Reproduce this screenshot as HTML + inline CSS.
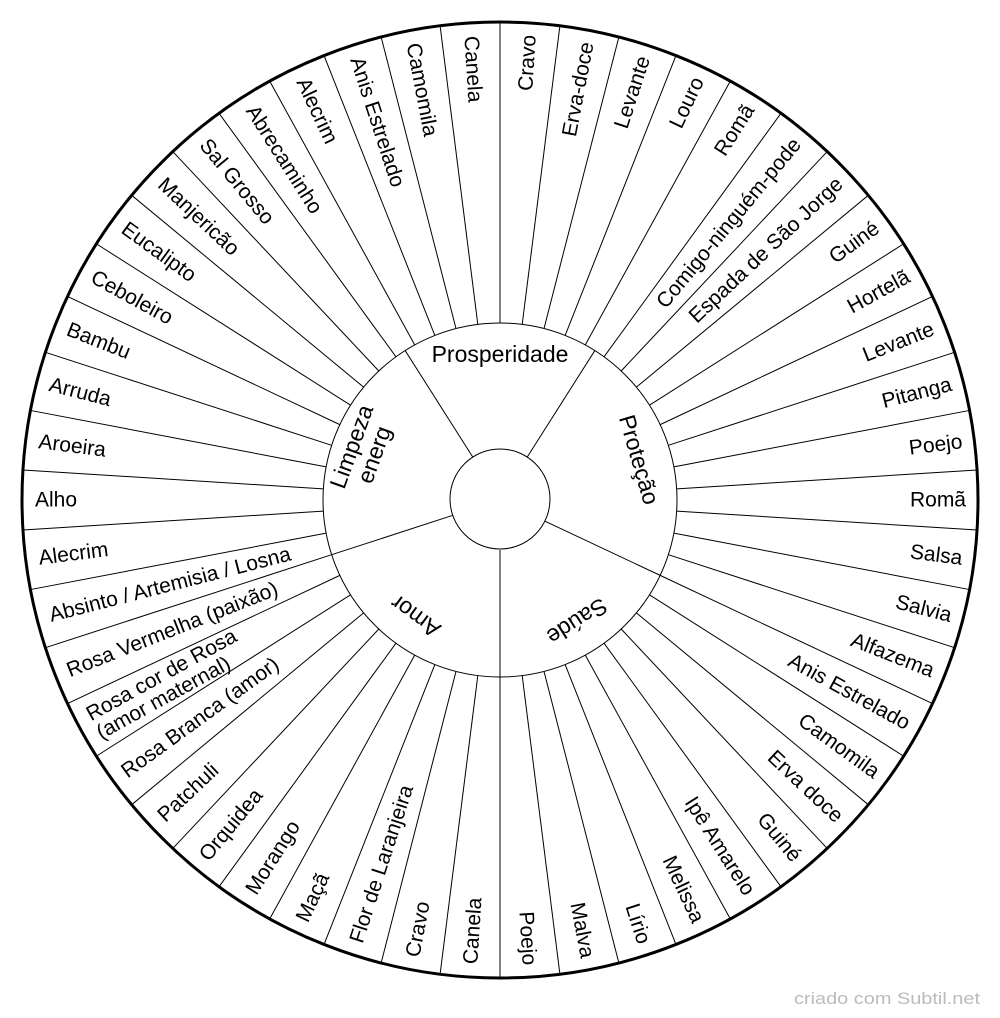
<!DOCTYPE html>
<html><head><meta charset="utf-8"><style>
html,body{margin:0;padding:0;background:#fff;}
svg{display:block;}
text{font-family:"Liberation Sans",Arial,sans-serif;fill:#000;}
</style></head><body>
<svg width="1000" height="1018" viewBox="0 0 1000 1018" xmlns="http://www.w3.org/2000/svg">
<defs><line id="sp" x1="500" y1="323" x2="500" y2="22" stroke="#000" stroke-width="1"/>
<line id="cs" x1="500" y1="450" x2="500" y2="323" stroke="#000" stroke-width="1"/></defs>
<circle cx="500" cy="500" r="478" fill="#fff" stroke="#000" stroke-width="3"/>
<g>
<use href="#sp" transform="rotate(0 500 500)"/><use href="#sp" transform="rotate(7.2 500 500)"/><use href="#sp" transform="rotate(14.4 500 500)"/><use href="#sp" transform="rotate(21.6 500 500)"/><use href="#sp" transform="rotate(28.8 500 500)"/><use href="#sp" transform="rotate(36 500 500)"/><use href="#sp" transform="rotate(43.2 500 500)"/><use href="#sp" transform="rotate(50.4 500 500)"/><use href="#sp" transform="rotate(57.6 500 500)"/><use href="#sp" transform="rotate(64.8 500 500)"/>
<use href="#sp" transform="rotate(72 500 500)"/><use href="#sp" transform="rotate(79.2 500 500)"/><use href="#sp" transform="rotate(86.4 500 500)"/><use href="#sp" transform="rotate(93.6 500 500)"/><use href="#sp" transform="rotate(100.8 500 500)"/><use href="#sp" transform="rotate(108 500 500)"/><use href="#sp" transform="rotate(115.2 500 500)"/><use href="#sp" transform="rotate(122.4 500 500)"/><use href="#sp" transform="rotate(129.6 500 500)"/><use href="#sp" transform="rotate(136.8 500 500)"/>
<use href="#sp" transform="rotate(144 500 500)"/><use href="#sp" transform="rotate(151.2 500 500)"/><use href="#sp" transform="rotate(158.4 500 500)"/><use href="#sp" transform="rotate(165.6 500 500)"/><use href="#sp" transform="rotate(172.8 500 500)"/><use href="#sp" transform="rotate(180 500 500)"/><use href="#sp" transform="rotate(187.2 500 500)"/><use href="#sp" transform="rotate(194.4 500 500)"/><use href="#sp" transform="rotate(201.6 500 500)"/><use href="#sp" transform="rotate(208.8 500 500)"/>
<use href="#sp" transform="rotate(216 500 500)"/><use href="#sp" transform="rotate(223.2 500 500)"/><use href="#sp" transform="rotate(230.4 500 500)"/><use href="#sp" transform="rotate(237.6 500 500)"/><use href="#sp" transform="rotate(244.8 500 500)"/><use href="#sp" transform="rotate(252 500 500)"/><use href="#sp" transform="rotate(259.2 500 500)"/><use href="#sp" transform="rotate(266.4 500 500)"/><use href="#sp" transform="rotate(273.6 500 500)"/><use href="#sp" transform="rotate(280.8 500 500)"/>
<use href="#sp" transform="rotate(288 500 500)"/><use href="#sp" transform="rotate(295.2 500 500)"/><use href="#sp" transform="rotate(302.4 500 500)"/><use href="#sp" transform="rotate(309.6 500 500)"/><use href="#sp" transform="rotate(316.8 500 500)"/><use href="#sp" transform="rotate(324 500 500)"/><use href="#sp" transform="rotate(331.2 500 500)"/><use href="#sp" transform="rotate(338.4 500 500)"/><use href="#sp" transform="rotate(345.6 500 500)"/><use href="#sp" transform="rotate(352.8 500 500)"/>
</g>
<circle cx="500" cy="500" r="177" fill="#fff" stroke="#000" stroke-width="1"/>
<use href="#cs" transform="rotate(-32.4 500 500)"/><use href="#cs" transform="rotate(32.4 500 500)"/><use href="#cs" transform="rotate(115.2 500 500)"/><use href="#cs" transform="rotate(180 500 500)"/><use href="#cs" transform="rotate(252 500 500)"/>
<circle cx="500" cy="499" r="50" fill="#fff" stroke="#000" stroke-width="1"/>

<g font-size="21" text-anchor="end" dominant-baseline="central">
<text x="966" y="500" transform="rotate(-86.4 500 500)">Cravo</text>
<text x="966" y="500" transform="rotate(-79.2 500 500)">Erva-doce</text>
<text x="966" y="500" transform="rotate(-72 500 500)">Levante</text>
<text x="966" y="500" transform="rotate(-64.8 500 500)">Louro</text>
<text x="966" y="500" transform="rotate(-57.6 500 500)">Romã</text>
<text x="966" y="500" transform="rotate(-50.4 500 500)">Comigo-ninguém-pode</text>
<text x="966" y="500" transform="rotate(-43.2 500 500)">Espada de São Jorge</text>
<text x="966" y="500" transform="rotate(-36 500 500)">Guiné</text>
<text x="966" y="500" transform="rotate(-28.8 500 500)">Hortelã</text>
<text x="966" y="500" transform="rotate(-21.6 500 500)">Levante</text>
<text x="966" y="500" transform="rotate(-14.4 500 500)">Pitanga</text>
<text x="966" y="500" transform="rotate(-7.2 500 500)">Poejo</text>
<text x="966" y="500">Romã</text>
<text x="966" y="500" transform="rotate(7.2 500 500)">Salsa</text>
<text x="966" y="500" transform="rotate(14.4 500 500)">Salvia</text>
<text x="966" y="500" transform="rotate(21.6 500 500)">Alfazema</text>
<text x="966" y="500" transform="rotate(28.8 500 500)">Anis Estrelado</text>
<text x="966" y="500" transform="rotate(36 500 500)">Camomila</text>
<text x="966" y="500" transform="rotate(43.2 500 500)">Erva doce</text>
<text x="966" y="500" transform="rotate(50.4 500 500)">Guiné</text>
<text x="966" y="500" transform="rotate(57.6 500 500)">Ipê Amarelo</text>
<text x="966" y="500" transform="rotate(64.8 500 500)">Melissa</text>
<text x="966" y="500" transform="rotate(72 500 500)">Lírio</text>
<text x="966" y="500" transform="rotate(79.2 500 500)">Malva</text>
<text x="966" y="500" transform="rotate(86.4 500 500)">Poejo</text>
</g>
<g font-size="21" text-anchor="start" dominant-baseline="central">
<text x="35" y="500" transform="rotate(-86.4 500 500)">Canela</text>
<text x="35" y="500" transform="rotate(-79.2 500 500)">Cravo</text>
<text x="35" y="500" transform="rotate(-72 500 500)">Flor de Laranjeira</text>
<text x="35" y="500" transform="rotate(-64.8 500 500)">Maçã</text>
<text x="35" y="500" transform="rotate(-57.6 500 500)">Morango</text>
<text x="35" y="500" transform="rotate(-50.4 500 500)">Orquidea</text>
<text x="35" y="500" transform="rotate(-43.2 500 500)">Patchuli</text>
<text x="35" y="500" transform="rotate(-36 500 500)">Rosa Branca (amor)</text>
<text x="35" y="500" transform="rotate(-28.8 500 500)"><tspan x="35" dy="-10">Rosa cor de Rosa</tspan><tspan x="35" dy="21">(amor maternal)</tspan></text>
<text x="35" y="500" transform="rotate(-21.6 500 500)">Rosa Vermelha (paixão)</text>
<text x="35" y="500" transform="rotate(-14.4 500 500)">Absinto / Artemisia / Losna</text>
<text x="35" y="500" transform="rotate(-7.2 500 500)">Alecrim</text>
<text x="35" y="500">Alho</text>
<text x="35" y="500" transform="rotate(7.2 500 500)">Aroeira</text>
<text x="35" y="500" transform="rotate(14.4 500 500)">Arruda</text>
<text x="35" y="500" transform="rotate(21.6 500 500)">Bambu</text>
<text x="35" y="500" transform="rotate(28.8 500 500)">Ceboleiro</text>
<text x="35" y="500" transform="rotate(36 500 500)">Eucalipto</text>
<text x="35" y="500" transform="rotate(43.2 500 500)">Manjericão</text>
<text x="35" y="500" transform="rotate(50.4 500 500)">Sal Grosso</text>
<text x="35" y="500" transform="rotate(57.6 500 500)">Abrecaminho</text>
<text x="35" y="500" transform="rotate(64.8 500 500)">Alecrim</text>
<text x="35" y="500" transform="rotate(72 500 500)">Anis Estrelado</text>
<text x="35" y="500" transform="rotate(79.2 500 500)">Camomila</text>
<text x="35" y="500" transform="rotate(86.4 500 500)">Canela</text>
</g>
<g font-size="23" text-anchor="middle" dominant-baseline="central">
<text x="500" y="354">Prosperidade</text>
<text x="500" y="355" transform="rotate(73.8 500 500)">Proteção</text>
<text x="500" y="356" transform="rotate(147.6 500 500)">Saúde</text>
<text x="500" y="356" transform="rotate(216 500 500)">Amor</text>
<text x="500" y="354" transform="rotate(-70.2 500 500)"><tspan x="500" dy="-12">Limpeza</tspan><tspan x="500" dy="24">energ</tspan></text>
</g>
<text x="980" y="1004" font-size="17" style="fill:#bbb" text-anchor="end" textLength="186" lengthAdjust="spacingAndGlyphs">criado com Subtil.net</text>
</svg>
</body></html>
